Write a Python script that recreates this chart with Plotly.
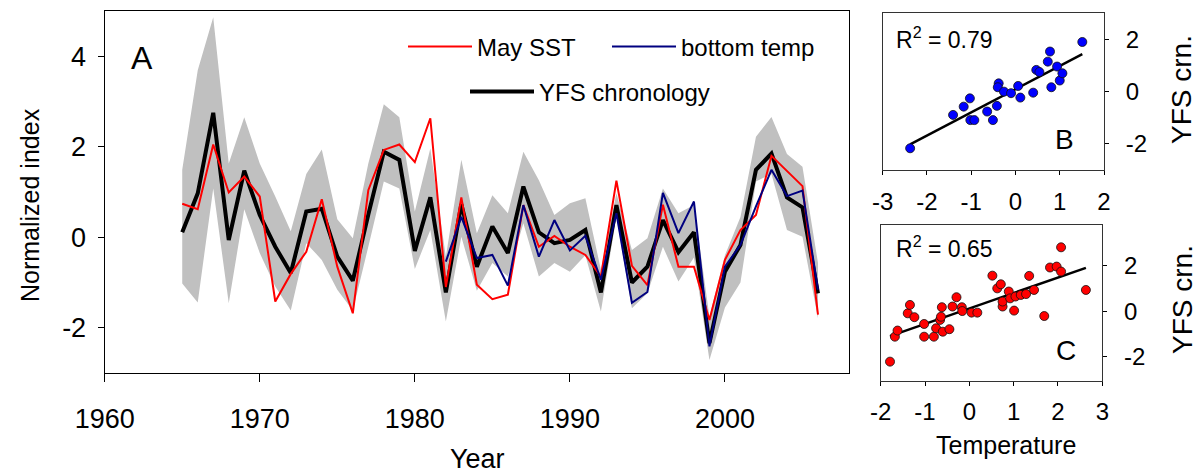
import numpy as np
import plotly.graph_objects as go

# ---------------- data ----------------
years = list(range(1965, 2007))
yfs_chronology = [0.11, 0.97, 2.75, -0.06, 1.47, 0.49, -0.21, -0.79, 0.57, 0.63,
                  -0.43, -0.96, 0.50, 1.89, 1.71, -0.30, 0.88, -1.22, 0.73, -0.65,
                  0.24, -0.35, 1.12, 0.11, -0.13, -0.06, 0.16, -1.22, 0.71, -1.00,
                  -0.65, 0.38, -0.33, 0.11, -2.34, -0.76, -0.17, 1.49, 1.85, 0.88,
                  0.66, -1.24]
band_upper = [1.49, 3.69, 4.86, 1.63, 2.65, 1.63, 0.90, 0.13, 1.40, 1.94,
              0.40, -0.02, 1.63, 2.94, 2.65, 0.57, 1.96, -0.43, 1.71, 0.09,
              0.93, 0.53, 1.89, 1.26, 0.49, 0.75, 0.86, -0.72, 0.97, -0.28,
              -0.02, 1.08, 0.53, 0.71, -1.75, -0.40, 0.45, 2.22, 2.66, 1.84,
              1.56, -0.57]
band_lower = [-1.02, -1.44, 1.08, -1.46, 0.62, -0.35, -1.09, -1.62, -0.13, -0.50,
              -1.16, -1.62, -0.21, 1.23, 1.08, -0.70, 0.16, -1.86, 0.01, -1.18,
              -0.57, -0.87, 0.31, -0.87, -0.57, -0.76, -0.40, -1.64, 0.45, -1.57,
              -1.24, -0.21, -0.98, -0.45, -2.71, -1.55, -1.00, 1.23, 1.40, 0.16,
              0.01, -1.79]
may_sst = [0.74, 0.62, 2.05, 0.99, 1.34, 0.90, -1.42, -0.81, -0.32, 0.84,
           -0.65, -1.68, 1.04, 1.93, 2.05, 1.66, 2.63, -1.10, 0.88, -1.05,
           -1.37, -1.27, 0.71, -0.21, 0.03, -0.21, -0.39, -0.87, 1.25, -0.63,
           -1.06, 0.72, -0.65, -0.65, -1.83, -0.50, 0.16, 0.49, 1.80, 1.47,
           1.13, -1.71]
bt_years = list(range(1982, 2007))
bottom_temp = [-0.54, 0.45, -0.46, -0.39, -1.07, 0.71, -0.43, 0.38, -0.29, 0.03,
               -0.94, 0.53, -1.45, -1.21, 0.98, 0.09, 0.79, -2.41, -0.65, -0.17,
               0.68, 1.49, 0.91, 1.03, -1.16]

# panel B: bottom temperature vs YFS chronology
b_temp = [-2.38, -1.41, -1.17, -1.03, -1.02, -0.93, -0.64, -0.51, -0.42, -0.38,
          -0.40, -0.26, -0.10, 0.06, 0.11, 0.40, 0.47, 0.54, 0.73, 0.78,
          0.81, 0.94, 1.00, 1.06, 1.51]
b_crn = [-2.19, -0.90, -0.58, -0.26, -1.10, -1.10, -0.77, -1.10, -0.55, 0.32,
         0.17, 0.00, -0.06, 0.22, -0.23, -0.04, 0.84, 0.76, 1.16, 1.55,
         0.17, 0.97, 0.43, 0.71, 1.92]
# panel C: May SST vs YFS chronology
c_temp = [-1.79, -1.68, -1.62, -1.39, -1.34, -1.24, -1.02, -1.02, -0.80, -0.75,
          -0.66, -0.64, -0.62, -0.60, -0.45, -0.38, -0.29, -0.17, -0.16, 0.05,
          0.18, 0.52, 0.63, 0.71, 0.75, 0.75, 0.89, 0.92, 1.01, 1.04,
          1.16, 1.28, 1.35, 1.46, 1.69, 1.82, 1.97, 2.07, 2.07, 2.63]
c_crn = [-2.22, -1.12, -0.85, -0.09, 0.28, -0.26, -0.56, -1.12, -1.12, -0.75,
         -0.38, -0.24, 0.18, -0.90, -0.79, 0.21, 0.62, 0.18, 0.01, -0.06,
         -0.06, 1.57, 1.01, 1.19, 0.21, 0.43, 0.87, 0.57, 0.03, 0.65,
         0.72, 0.76, 1.56, 0.94, -0.21, 1.93, 1.97, 1.75, 2.82, 0.94]
r2_b = "0.79"
r2_c = "0.65"

main_xticks = [1960, 1970, 1980, 1990, 2000]
main_yticks = [-2, 0, 2, 4]
b_xticks = [-3, -2, -1, 0, 1, 2]
c_xticks = [-2, -1, 0, 1, 2, 3]
side_yticks = [-2, 0, 2]


def labels(vals):
    return [str(v) for v in vals]


FONT = "Arial, Liberation Sans, sans-serif"
RED = "#ff0000"
NAVY = "#000080"
GREY = "#c0c0c0"

fig = go.Figure()

# confidence band
fig.add_trace(go.Scatter(x=years, y=band_upper, mode="lines", line=dict(width=0, color=GREY),
                         showlegend=False, hoverinfo="skip", xaxis="x", yaxis="y"))
fig.add_trace(go.Scatter(x=years, y=band_lower, mode="lines", line=dict(width=0, color=GREY),
                         fill="tonexty", fillcolor=GREY, showlegend=False, hoverinfo="skip",
                         xaxis="x", yaxis="y"))
# series
fig.add_trace(go.Scatter(x=years, y=yfs_chronology, mode="lines", name="YFS chronology",
                         line=dict(color="black", width=4), legend="legend3",
                         xaxis="x", yaxis="y"))
fig.add_trace(go.Scatter(x=years, y=may_sst, mode="lines", name="May SST",
                         line=dict(color=RED, width=2), legend="legend",
                         xaxis="x", yaxis="y"))
fig.add_trace(go.Scatter(x=bt_years, y=bottom_temp, mode="lines", name="bottom temp",
                         line=dict(color=NAVY, width=2), legend="legend2",
                         xaxis="x", yaxis="y"))


# regression fits
def fit_line(xs, ys):
    slope, icpt = np.polyfit(xs, ys, 1)
    xl = [min(xs), max(xs)]
    return xl, [slope * v + icpt for v in xl]


bx, by = fit_line(b_temp, b_crn)
fig.add_trace(go.Scatter(x=bx, y=by, mode="lines", line=dict(color="black", width=2.5),
                         showlegend=False, xaxis="x2", yaxis="y2"))
fig.add_trace(go.Scatter(x=b_temp, y=b_crn, mode="markers", showlegend=False,
                         marker=dict(color="#0000ff", size=9, line=dict(color="#101010", width=0.8)),
                         xaxis="x2", yaxis="y2"))
cx, cy = fit_line(c_temp, c_crn)
fig.add_trace(go.Scatter(x=cx, y=cy, mode="lines", line=dict(color="black", width=2.5),
                         showlegend=False, xaxis="x3", yaxis="y3"))
fig.add_trace(go.Scatter(x=c_temp, y=c_crn, mode="markers", showlegend=False,
                         marker=dict(color=RED, size=9, line=dict(color="#101010", width=0.8)),
                         xaxis="x3", yaxis="y3"))

W, H = 1200, 473


def px(xp):
    return xp / W


def py(yp):
    return 1 - yp / H


def ax(**kw):
    base = dict(showgrid=False, zeroline=False, showline=True, linecolor="black",
                ticks="outside", tickcolor="black", mirror=True, automargin=False)
    base.update(kw)
    return base


legend_common = dict(orientation="h", bgcolor="rgba(0,0,0,0)", borderwidth=0,
                     font=dict(family=FONT, size=24, color="black"),
                     xanchor="left", yanchor="middle", itemwidth=64)

fig.update_layout(
    template="none",
    width=W, height=H, autosize=False,
    margin=dict(l=0, r=0, t=0, b=0, pad=0),
    paper_bgcolor="white", plot_bgcolor="white",
    font=dict(family=FONT, color="black"),
    xaxis=ax(domain=[px(104.7), px(849)], range=[1960, 2008], tickvals=main_xticks,
             ticktext=labels(main_xticks), ticklen=8, linewidth=1.3, tickwidth=1.3, anchor="y",
             tickfont=dict(size=27), ticklabelstandoff=13),
    yaxis=ax(domain=[py(373), py(11)], range=[-3, 5], tickvals=main_yticks,
             ticktext=labels(main_yticks), ticklen=6, linewidth=1.3, tickwidth=1.3, anchor="x",
             tickfont=dict(size=27), ticklabelstandoff=6),
    xaxis2=ax(domain=[px(882.7), px(1104)], range=[-3, 2], tickvals=b_xticks,
              ticktext=labels(b_xticks), anchor="y2", ticklen=4, linewidth=1,
              linecolor="#333", tickfont=dict(size=24), ticklabelstandoff=6),
    yaxis2=ax(domain=[py(170), py(12.5)], range=[-3.03, 3.06], tickvals=side_yticks,
              ticktext=labels(side_yticks), side="right", anchor="x2", ticklen=4,
              linewidth=1, linecolor="#333", tickfont=dict(size=24), ticklabelstandoff=12),
    xaxis3=ax(domain=[px(880.7), px(1102.3)], range=[-2, 3], tickvals=c_xticks,
              ticktext=labels(c_xticks), anchor="y3", ticklen=4, linewidth=1,
              linecolor="#333", tickfont=dict(size=24), ticklabelstandoff=5),
    yaxis3=ax(domain=[py(380.7), py(225.3)], range=[-3.06, 3.79], tickvals=side_yticks,
              ticktext=labels(side_yticks), side="right", anchor="x3", ticklen=4,
              linewidth=1, linecolor="#333", tickfont=dict(size=24), ticklabelstandoff=12),
    legend=dict(x=px(403), y=py(47), **legend_common),
    legend2=dict(x=px(607), y=py(47), **legend_common),
    legend3=dict(x=px(465), y=py(92), **legend_common),
)

ann = [
    dict(text="Year", x=px(477), y=py(459), font=dict(size=27)),
    dict(text="Normalized index", x=px(30), y=py(205), textangle=-90, font=dict(size=25)),
    dict(text="Temperature", x=px(1006), y=py(445), font=dict(size=25)),
    dict(text="YFS crn.", x=px(1182), y=py(90), textangle=-90, font=dict(size=28)),
    dict(text="YFS crn.", x=px(1182), y=py(300), textangle=-90, font=dict(size=28)),
    dict(text="A", x=px(141.5), y=py(58), font=dict(size=32)),
    dict(text="B", x=px(1064), y=py(139), font=dict(size=28)),
    dict(text="C", x=px(1066), y=py(350), font=dict(size=28)),
    dict(text="R<sup>2</sup> = " + r2_b, x=px(894), y=py(38), xanchor="left", font=dict(size=23)),
    dict(text="R<sup>2</sup> = " + r2_c, x=px(894), y=py(247), xanchor="left", font=dict(size=23)),
]
for a in ann:
    a.setdefault("xanchor", "center")
    a.update(xref="paper", yref="paper", showarrow=False, yanchor="middle")
    a["font"] = dict(family=FONT, color="black", **a["font"])
fig.update_layout(annotations=ann)

# remove the browser's default 8px body margin so the figure fills the window exactly
fig.write_html("out.html", config={"displayModeBar": False},
               post_script="document.body.style.margin='0';document.body.style.overflow='hidden';")
